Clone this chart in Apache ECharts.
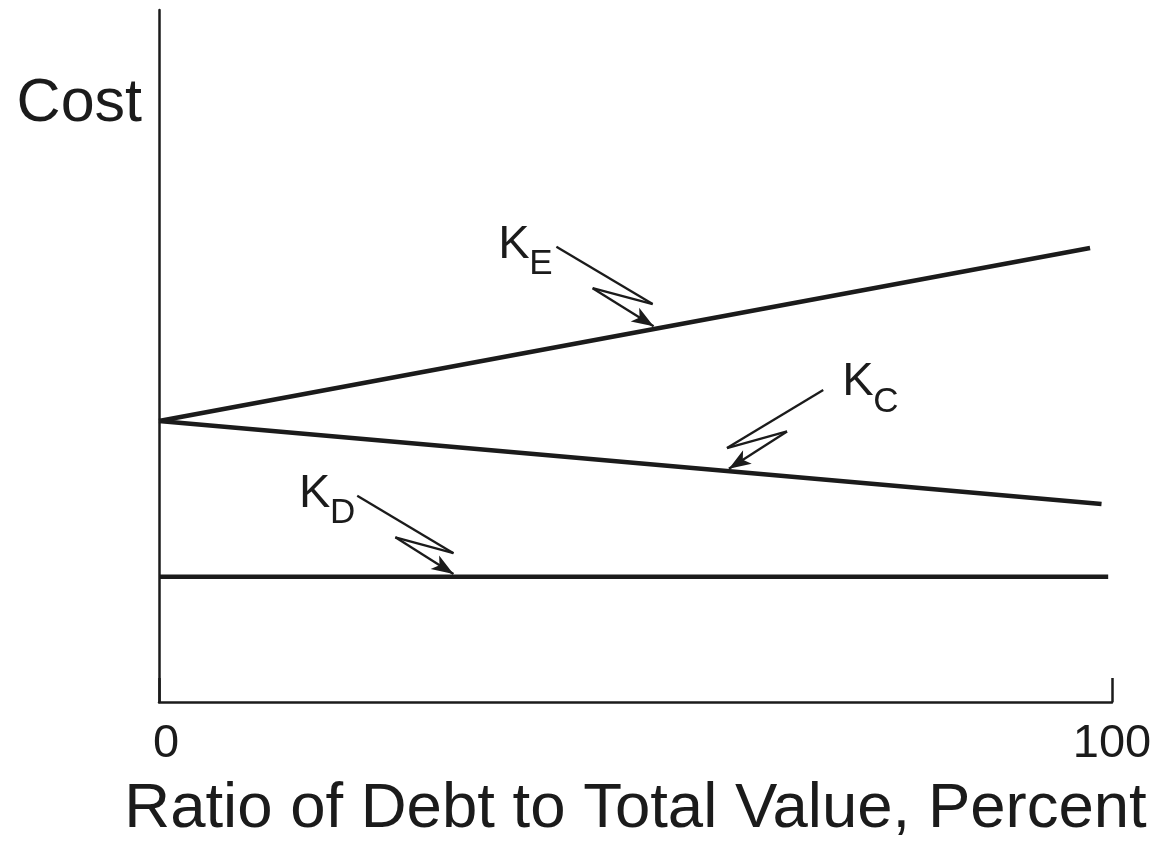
<!DOCTYPE html>
<html>
<head>
<meta charset="utf-8">
<script src="https://cdn.jsdelivr.net/npm/echarts@6/dist/echarts.min.js"></script>
<style>
html,body{margin:0;padding:0;background:#fff;}
#chart{width:1168px;height:843px;}
</style>
</head>
<body>
<div id="chart"></div>
<script>
// ---- data (x: debt ratio %, y: cost in arbitrary units) ----
const xTicks = [0, 100];
const costEquity = [[0, 40.6], [97.7, 65.6]];   // K_E
const costCapital = [[0, 40.6], [98.9, 28.6]];  // K_C
const costDebt = [[0, 18.1], [99.6, 18.1]];     // K_D

// annotation arrows (data coords): start, bend, back, tip
const arrowE = [[41.7, 65.8], [51.8, 57.5], [45.5, 59.8], [51.9, 54.3]];
const arrowC = [[69.7, 45.1], [59.6, 36.7], [65.9, 39.1], [59.8, 33.7]];
const arrowD = [[20.8, 29.8], [30.9, 21.5], [24.8, 23.8], [30.9, 18.5]];

// label anchors (data coords of K's left baseline), subscript letters
const labelE = {sub: 'E', at: [35.6, 64.0]};
const labelC = {sub: 'C', at: [71.7, 44.1]};
const labelD = {sub: 'D', at: [14.7, 28.0]};

const INK = '#1b1b1b';
const FONT = '"Liberation Sans", Arial, Helvetica, sans-serif';

function arrowLines(pts) {
  const d = [];
  for (let i = 0; i < pts.length - 1; i++) {
    const last = i === pts.length - 2;
    d.push([
      {coord: pts[i], symbol: 'none'},
      {coord: pts[i + 1], symbol: last ? 'arrow' : 'none', symbolSize: last ? [12, 22] : 0}
    ]);
  }
  return d;
}

const chart = echarts.init(document.getElementById('chart'), null, {renderer: 'canvas'});
const mainLine = {width: 4.5, color: INK};

chart.setOption({
  animation: false,
  backgroundColor: '#fff',
  grid: {left: 159, right: 56, top: 10, bottom: 141, containLabel: false, outerBoundsMode: 'none'},
  xAxis: {
    type: 'value', min: 0, max: 100, interval: 100,
    axisLine: {show: true, lineStyle: {color: INK, width: 2.5}},
    axisTick: {show: true, inside: true, length: 24, lineStyle: {color: INK, width: 2.5}},
    splitLine: {show: false},
    axisLabel: {
      show: true, margin: 19, color: INK, fontFamily: FONT, fontSize: 47,
      formatter: v => (v === xTicks[0] ? '{z|' + v + '}' : (v === xTicks[1] ? '{h|' + v + '}' : '')),
      rich: {
        z: {fontFamily: FONT, fontSize: 47, color: INK, padding: [0, 0, 0, 14]},
        h: {fontFamily: FONT, fontSize: 47, color: INK}
      }
    },
    name: 'Ratio of Debt to Total Value, Percent',
    nameLocation: 'middle', nameGap: 75,
    nameTextStyle: {fontFamily: FONT, fontSize: 63.5, color: INK}
  },
  yAxis: {
    type: 'value', min: 0, max: 100,
    axisLine: {show: true, lineStyle: {color: INK, width: 2.5}},
    axisTick: {show: false}, axisLabel: {show: false}, splitLine: {show: false}
  },
  series: [
    {type: 'line', name: 'K_E', data: costEquity, symbol: 'none', lineStyle: mainLine, silent: true},
    {type: 'line', name: 'K_C', data: costCapital, symbol: 'none', lineStyle: mainLine, silent: true},
    {type: 'line', name: 'K_D', data: costDebt, symbol: 'none', lineStyle: mainLine, silent: true},
    {
      type: 'line', data: [], silent: true,
      markLine: {
        silent: true, animation: false,
        label: {show: false},
        lineStyle: {color: INK, width: 2.3, type: 'solid'},
        itemStyle: {color: INK},
        emphasis: {disabled: true},
        data: [].concat(arrowLines(arrowE), arrowLines(arrowC), arrowLines(arrowD))
      }
    }
  ]
});

const g = [];
[labelE, labelC, labelD].forEach(l => {
  const p = chart.convertToPixel({gridIndex: 0}, l.at);
  g.push({type: 'text', x: p[0], y: p[1] + 9, style: {text: 'K', font: '47px ' + FONT, fill: INK, textAlign: 'left', textVerticalAlign: 'bottom'}});
  g.push({type: 'text', x: p[0] + 31, y: p[1] + 23, style: {text: l.sub, font: '35px ' + FONT, fill: INK, textAlign: 'left', textVerticalAlign: 'bottom'}});
});
g.push({type: 'text', x: 142, y: 135, style: {text: 'Cost', font: '61px ' + FONT, fill: INK, textAlign: 'right', textVerticalAlign: 'bottom'}});
chart.setOption({graphic: g});
</script>
</body>
</html>
